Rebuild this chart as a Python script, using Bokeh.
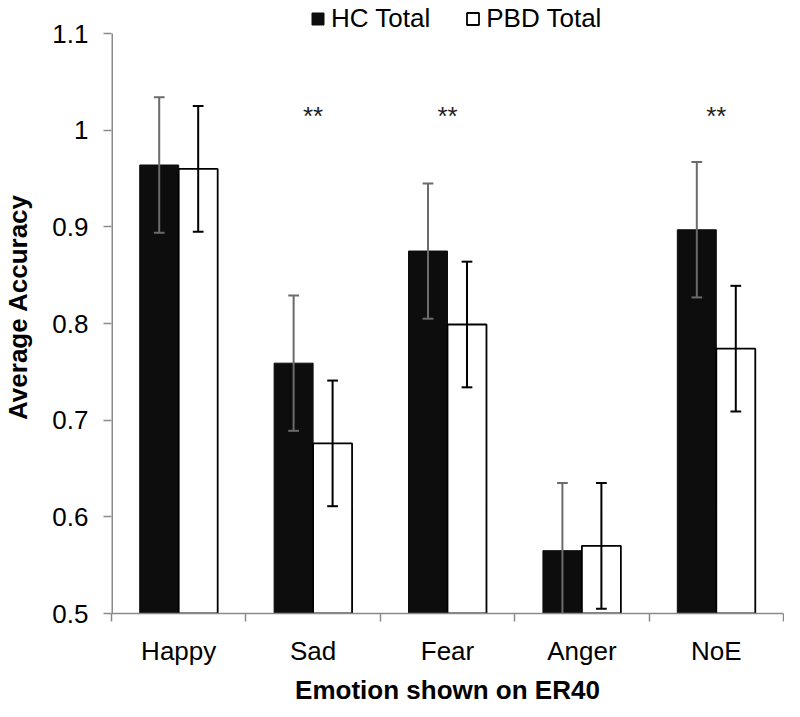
from bokeh.plotting import figure
from bokeh.models import (Range1d, FixedTicker, Legend, LegendItem, ColumnDataSource)
from bokeh.core.properties import value
from bokeh.embed import file_html
from bokeh.resources import INLINE

categories = ["Happy", "Sad", "Fear", "Anger", "NoE"]
hc_mean = [0.964, 0.759, 0.875, 0.565, 0.897]
pbd_mean = [0.960, 0.676, 0.799, 0.570, 0.774]
hc_err = [0.07, 0.07, 0.07, 0.07, 0.07]
pbd_err = [0.065, 0.065, 0.065, 0.065, 0.065]
sig_labels = ["", "**", "**", "", "**"]
y_ticks = [0.5, 0.6, 0.7, 0.8, 0.9, 1.0, 1.1]
y_tick_labels = ["0.5", "0.6", "0.7", "0.8", "0.9", "1", "1.1"]

FONT = "Liberation Sans"
BAR_W = 0.29
CAP = 0.04
SIG_Y = 1.015
Y_MIN, Y_MAX = 0.5, 1.1
Y_VIEW_TOP = 1.1342   # extra headroom so the legend fits inside the plot frame

centers = [i + 0.5 for i in range(len(categories))]
hc_x = [c - BAR_W / 2 for c in centers]
pbd_x = [c + BAR_W / 2 for c in centers]

src = ColumnDataSource(dict(
    hc_x=hc_x, pbd_x=pbd_x, hc=hc_mean, pbd=pbd_mean,
    hc_lo=[m - e for m, e in zip(hc_mean, hc_err)],
    hc_hi=[m + e for m, e in zip(hc_mean, hc_err)],
    pbd_lo=[m - e for m, e in zip(pbd_mean, pbd_err)],
    pbd_hi=[m + e for m, e in zip(pbd_mean, pbd_err)],
    hc_cl=[x - CAP for x in hc_x], hc_cr=[x + CAP for x in hc_x],
    pbd_cl=[x - CAP for x in pbd_x], pbd_cr=[x + CAP for x in pbd_x],
))

p = figure(width=784, height=708, x_range=Range1d(0, 5), y_range=Range1d(Y_MIN, Y_VIEW_TOP),
           output_backend="svg", toolbar_location=None,
           min_border_left=100, min_border_right=1, min_border_top=0, min_border_bottom=95)
p.outline_line_color = None
p.xgrid.visible = False
p.ygrid.visible = False
p.background_fill_color = "white"
p.border_fill_color = "white"

AX_COLOR = "#8a8a8a"
# y axis line drawn only from 0.5 to 1.1
p.segment(x0=[0], x1=[0], y0=[Y_MIN], y1=[Y_MAX], line_color=AX_COLOR, line_width=3)

hc_r = p.vbar(x="hc_x", top="hc", bottom=Y_MIN, width=BAR_W, source=src,
              fill_color="#0d0d0d", line_color="#0d0d0d", line_width=1)
pbd_r = p.vbar(x="pbd_x", top="pbd", bottom=Y_MIN, width=BAR_W, source=src,
               fill_color="white", line_color="black", line_width=1.8)

# error bars
HC_ERR_COLOR = "#6b6b6b"
p.segment(x0="hc_x", x1="hc_x", y0="hc_lo", y1="hc_hi", source=src, line_color=HC_ERR_COLOR, line_width=2)
p.segment(x0="hc_cl", x1="hc_cr", y0="hc_hi", y1="hc_hi", source=src, line_color=HC_ERR_COLOR, line_width=2)
p.segment(x0="hc_cl", x1="hc_cr", y0="hc_lo", y1="hc_lo", source=src, line_color=HC_ERR_COLOR, line_width=2)
p.segment(x0="pbd_x", x1="pbd_x", y0="pbd_lo", y1="pbd_hi", source=src, line_color="black", line_width=2)
p.segment(x0="pbd_cl", x1="pbd_cr", y0="pbd_hi", y1="pbd_hi", source=src, line_color="black", line_width=2)
p.segment(x0="pbd_cl", x1="pbd_cr", y0="pbd_lo", y1="pbd_lo", source=src, line_color="black", line_width=2)

# significance markers
sig_src = ColumnDataSource(dict(x=centers, y=[SIG_Y] * len(centers), t=sig_labels))
p.text(x="x", y="y", text="t", source=sig_src, text_align="center", text_baseline="alphabetic",
       text_font=value(FONT), text_font_size="26px", text_color="#222222")

# axes
xa = p.xaxis[0]
xa.ticker = FixedTicker(ticks=centers, minor_ticks=[0, 1, 2, 3, 4, 5])
xa.major_label_overrides = {c: lab for c, lab in zip(centers, categories)}
xa.major_tick_out = 0
xa.major_tick_in = 0
xa.minor_tick_out = 8
xa.minor_tick_in = 0
xa.minor_tick_line_color = AX_COLOR
xa.minor_tick_line_width = 1.5
xa.axis_line_color = AX_COLOR
xa.axis_line_width = 1.5
xa.major_label_text_font = FONT
xa.major_label_text_font_size = "26px"
xa.major_label_text_color = "black"
xa.major_label_standoff = 14
xa.axis_label = "Emotion shown on ER40"
xa.axis_label_text_font = FONT
xa.axis_label_text_font_size = "26px"
xa.axis_label_text_font_style = "bold"
xa.axis_label_text_color = "black"
xa.axis_label_standoff = 6

ya = p.yaxis[0]
ya.ticker = FixedTicker(ticks=y_ticks, minor_ticks=[])
ya.major_label_overrides = {t: lab for t, lab in zip(y_ticks, y_tick_labels)}
ya.major_tick_out = 8
ya.major_tick_in = 0
ya.major_tick_line_color = AX_COLOR
ya.major_tick_line_width = 1.5
ya.axis_line_color = None
ya.major_label_text_font = FONT
ya.major_label_text_font_size = "26px"
ya.major_label_text_color = "black"
ya.major_label_standoff = 15
ya.axis_label = "Average Accuracy"
ya.axis_label_text_font = FONT
ya.axis_label_text_font_size = "26px"
ya.axis_label_text_font_style = "bold"
ya.axis_label_text_color = "black"
ya.axis_label_standoff = 16

legend = Legend(items=[LegendItem(label="HC Total", renderers=[hc_r]),
                       LegendItem(label="PBD Total", renderers=[pbd_r])],
                orientation="horizontal", location=(199, 579),
                glyph_width=15, glyph_height=15, label_standoff=6, spacing=35,
                padding=0, margin=0, border_line_color=None, background_fill_alpha=0,
                label_text_font=FONT, label_text_font_size="26px", label_text_color="black")
p.add_layout(legend, "center")

open("out.html", "w").write(file_html(p, INLINE))
